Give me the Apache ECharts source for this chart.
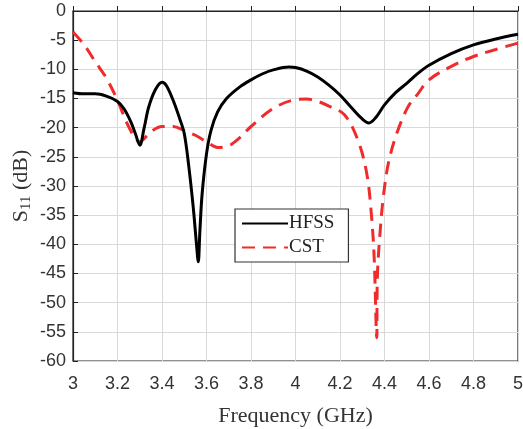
<!DOCTYPE html>
<html>
<head>
<meta charset="utf-8">
<script src="https://cdn.jsdelivr.net/npm/echarts@6/dist/echarts.min.js"></script>
<style>html,body{margin:0;padding:0;background:#fff}#c{width:523px;height:429px}</style>
</head>
<body>
<div id="c"></div>
<script>
var hfssFreq = [3.00,3.05,3.10,3.15,3.20,3.23,3.26,3.28,3.30,3.32,3.34,3.37,3.40,3.42,3.45,3.48,3.50,3.52,3.54,3.555,3.563,3.57,3.58,3.60,3.62,3.65,3.69,3.75,3.80,3.85,3.90,3.97,4.00,4.05,4.10,4.15,4.20,4.25,4.30,4.33,4.36,4.40,4.45,4.50,4.55,4.60,4.70,4.80,4.90,5.00];
var hfssS11 = [-14.0,-14.2,-14.2,-14.6,-15.5,-16.8,-19.0,-21.0,-23.0,-20.0,-16.5,-13.5,-12.2,-12.8,-15.3,-18.5,-21.0,-26.5,-33.5,-40,-43,-38,-31.5,-24.5,-20.5,-17.3,-15.0,-13.0,-11.8,-10.8,-10.1,-9.6,-9.7,-10.3,-11.3,-12.7,-14.4,-16.5,-18.5,-19.2,-18.3,-16.1,-14.0,-12.4,-10.7,-9.3,-7.3,-5.8,-4.8,-4.0];
var cstFreq = [3.00,3.05,3.10,3.15,3.20,3.25,3.30,3.35,3.40,3.45,3.50,3.55,3.60,3.65,3.70,3.75,3.80,3.90,4.00,4.05,4.10,4.15,4.22,4.28,4.32,4.342,4.354,4.365,4.368,4.38,4.395,4.418,4.455,4.506,4.55,4.60,4.70,4.80,4.90,5.00];
var cstS11 = [-3.6,-5.8,-8.7,-11.5,-15.3,-19.8,-22.4,-20.7,-19.8,-19.8,-20.5,-21.3,-22.4,-23.4,-23.1,-21.7,-19.8,-16.7,-15.2,-15.1,-15.5,-16.3,-17.8,-22.1,-27.8,-35.3,-42.7,-56,-45.5,-38,-31.8,-26,-21,-16.4,-14.2,-11.8,-9.5,-7.8,-6.6,-5.5];
var seriesNames = ['HFSS','CST'];
var xTicks = [3,3.2,3.4,3.6,3.8,4,4.2,4.4,4.6,4.8,5];

function pairs(xs, ys){ return xs.map(function(x,i){return [x, ys[i]];}); }

var chart = echarts.init(document.getElementById('c'), null, {renderer:'canvas'});
chart.setOption({
  animation: false,
  backgroundColor: '#fff',
  grid: {left:73, top:11, right:5, bottom:68, outerBoundsMode:'none', containLabel:false, show:true, borderColor:'#222', borderWidth:1.2, backgroundColor:'transparent'},
  legend: {
    data: seriesNames,
    orient: 'vertical',
    left: 235, top: 209,
    backgroundColor: '#fff',
    borderColor: '#333', borderWidth: 1.2,
    padding: [5, 14, 5, 6],
    itemGap: 5,
    itemWidth: 46, itemHeight: 16,
    itemStyle: {opacity: 0},
    textStyle: {fontFamily:'Liberation Serif', fontSize:19, color:'#222', padding:[0,0,0,-4]}
  },
  xAxis: {
    type:'value', min:3, max:5, interval:0.2,
    name:'Frequency (GHz)', nameLocation:'middle', nameGap:44, nameMoveOverlap:false,
    nameTextStyle:{fontFamily:'Liberation Serif', fontSize:22, color:'#333'},
    axisLine:{lineStyle:{color:'#222', width:1.2}},
    axisTick:{inside:true, length:5, lineStyle:{color:'#222'}},
    axisLabel:{fontFamily:'Liberation Sans', fontSize:18, color:'#333', margin:14,
      formatter:function(v){ var r=Math.round(v*10)/10; return xTicks.indexOf(r)>=0 ? String(r) : ''; }},
    splitLine:{show:true, lineStyle:{color:'#d9d9d9', width:1}}
  },
  yAxis: {
    type:'value', min:-60, max:0, interval:5,
    name:'{s|S}{sub|11}{s| (dB)}', nameLocation:'middle', nameGap:39, nameRotate:90, nameMoveOverlap:false,
    nameTextStyle:{rich:{
      s:{fontFamily:'Liberation Serif', fontSize:22, color:'#333'},
      sub:{fontFamily:'Liberation Serif', fontSize:15, color:'#333', verticalAlign:'bottom', padding:[10,0,0,0]}
    }},
    axisLine:{lineStyle:{color:'#222', width:1.2}},
    axisTick:{inside:true, length:5, lineStyle:{color:'#222'}},
    axisLabel:{fontFamily:'Liberation Sans', fontSize:18, color:'#333', margin:7},
    splitLine:{show:true, lineStyle:{color:'#d9d9d9', width:1}}
  },
  series: [
    {name:seriesNames[0], type:'line', data:pairs(hfssFreq,hfssS11), showSymbol:false, symbol:'none',
      smooth:0.35, color:'#000', lineStyle:{color:'#000', width:3}, z:3},
    {name:seriesNames[1], type:'line', data:pairs(cstFreq,cstS11), showSymbol:false, symbol:'none',
      smooth:0.35, color:'#ef2b2b', lineStyle:{color:'#ef2b2b', width:3, type:[13,8]}, z:2}
  ]
});
</script>
</body>
</html>
